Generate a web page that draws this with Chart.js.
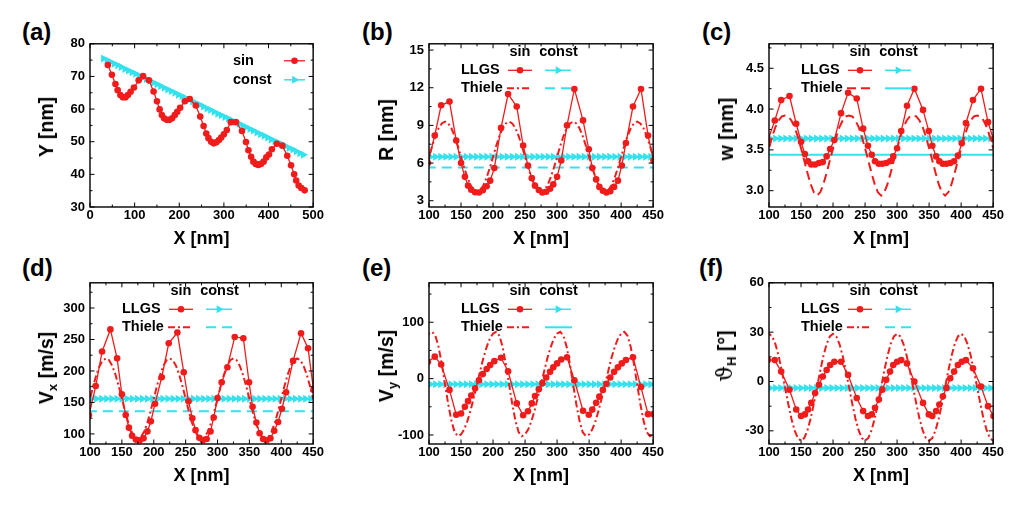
<!DOCTYPE html>
<html>
<head>
<meta charset="utf-8">
<script src="https://cdn.jsdelivr.net/npm/chart.js@4.4.1/dist/chart.umd.min.js"></script>
<style>
  body { margin: 0; background: #fff; width: 1030px; height: 511px; position: relative; overflow: hidden; font-family: "Liberation Sans", Arial, sans-serif; }
  canvas { position: absolute; }
  .tag { position: absolute; font-weight: bold; font-size: 24px; line-height: 24px; }
  .ytitle { position: absolute; font-weight: bold; font-size: 19.5px; line-height: 20px; white-space: nowrap; transform: translate(-50%, -50%) rotate(-90deg); }
  .ytitle sub { font-size: 13px; vertical-align: -4px; line-height: 0; }
  .ytitle .th { font-family: "DejaVu Serif", serif; font-weight: normal; font-size: 22px; }
</style>
</head>
<body>
<div class="tag" style="left:22px;top:20px">(a)</div>
<div class="tag" style="left:362px;top:20px">(b)</div>
<div class="tag" style="left:702px;top:20px">(c)</div>
<div class="tag" style="left:22px;top:256px">(d)</div>
<div class="tag" style="left:362px;top:256px">(e)</div>
<div class="tag" style="left:699px;top:256px">(f)</div>

<script>
// X POSITIONS OF THE "sin" TRACK (LLGS samples)
const xSin = [40, 49, 57, 62, 68, 73.5, 79.5, 85, 91, 98.5, 109, 119, 132, 142.5, 150, 156, 161, 166, 172, 178,
  184, 190, 195.5, 202, 212.5, 223.5, 237, 247, 254.5, 260.5, 265.5, 271.5, 277, 283, 289, 294, 300, 306.5, 315.5, 327,
  340.5, 349.5, 355, 361, 366, 371.5, 377, 383, 389, 395, 401, 407.5, 418.5, 431, 442, 450.5, 457.5, 462, 467.5, 473.5, 481];
const ySin = [73.5, 70.5, 67.7, 65.8, 64.3, 63.6, 63.6, 64.3, 65.3, 66.6, 68.8, 70.1, 68.8, 65.4, 62.4, 59.9, 58.2, 57.2, 56.7, 56.7,
  57.2, 58.2, 59.2, 60.4, 62.4, 63.1, 61.1, 57.7, 54.8, 52.5, 51.1, 50.0, 49.5, 49.8, 50.5, 51.3, 52.3, 53.6, 56.0, 56.0,
  53.3, 49.9, 47.4, 45.4, 43.9, 43.2, 42.9, 43.2, 43.9, 45.2, 46.1, 47.7, 49.4, 48.8, 45.7, 42.8, 40.0, 38.1, 36.6, 35.8, 35.1];

// "const" TRACK
const xConst = [30, 38, 46, 54, 62, 70, 78, 86, 94, 102, 110, 118, 126, 134, 142, 150, 158, 166, 174, 182,
  190, 198, 206, 214, 222, 230, 238, 246, 254, 262, 270, 278, 286, 294, 302, 310, 318, 326, 334, 342,
  350, 358, 366, 374, 382, 390, 398, 406, 414, 422, 430, 438, 446, 454, 462, 470, 478];
const yConst = [75.5, 75.0, 74.4, 73.9, 73.4, 72.9, 72.3, 71.8, 71.3, 70.8, 70.2, 69.7, 69.2, 68.7, 68.1, 67.6, 67.1, 66.5, 66.0, 65.5,
  65.0, 64.4, 63.9, 63.4, 62.9, 62.3, 61.8, 61.3, 60.8, 60.2, 59.7, 59.2, 58.6, 58.1, 57.6, 57.1, 56.5, 56.0, 55.5, 55.0,
  54.4, 53.9, 53.4, 52.8, 52.3, 51.8, 51.3, 50.7, 50.2, 49.7, 49.2, 48.6, 48.1, 47.6, 47.1, 46.5, 46.0];

// panels b-f only show 100..450 nm
const xSim = xSin.slice(8, 57);
const xConstSim = xConst.slice(8, 54);
const xThiele = [95, 100, 105, 110, 115, 120, 125, 130, 135, 140, 145, 150, 155, 160, 165, 170, 175, 180, 185, 190,
  195, 200, 205, 210, 215, 220, 225, 230, 235, 240, 245, 250, 255, 260, 265, 270, 275, 280, 285, 290,
  295, 300, 305, 310, 315, 320, 325, 330, 335, 340, 345, 350, 355, 360, 365, 370, 375, 380, 385, 390,
  395, 400, 405, 410, 415, 420, 425, 430, 435, 440, 445, 450, 455];
const xThieleConst = [95, 455];

// (b) R
const rLLGS = [4.8, 6.0, 8.2, 10.6, 10.9, 7.8, 6.0, 4.9, 4.2, 3.87, 3.68, 3.66, 3.84, 4.15, 4.6, 5.6, 8.8, 11.5, 10.5, 7.4,
  5.8, 4.8, 4.2, 3.85, 3.66, 3.72, 3.95, 4.3, 4.9, 6.2, 9.0, 11.9, 9.4, 7.1, 5.6, 4.7, 4.1, 3.8, 3.65, 3.75,
  4.1, 4.6, 5.8, 7.6, 10.5, 11.9, 8.2, 6.2, 5.0];
const rThiele = [5.63, 6.50, 7.37, 8.15, 8.77, 9.16,
  9.30, 9.16, 8.77, 8.15, 7.37, 6.50, 5.63, 4.85, 4.23, 3.84, 3.70, 3.84, 4.23, 4.85, 5.63, 6.50, 7.37, 8.15, 8.77, 9.16,
  9.30, 9.16, 8.77, 8.15, 7.37, 6.50, 5.63, 4.85, 4.23, 3.84, 3.70, 3.84, 4.23, 4.85, 5.63, 6.50, 7.37, 8.15, 8.77, 9.16,
  9.30, 9.16, 8.77, 8.15, 7.37, 6.50, 5.63, 4.85, 4.23, 3.84, 3.70, 3.84, 4.23, 4.85, 5.63, 6.50, 7.37, 8.15, 8.77, 9.16,
  9.30, 9.16, 8.77, 8.15, 7.37, 6.50, 5.63];
const rConst = [6.5, 6.5, 6.5, 6.5, 6.5, 6.5, 6.5, 6.5, 6.5, 6.5, 6.5, 6.5, 6.5, 6.5, 6.5, 6.5, 6.5, 6.5, 6.5, 6.5, 6.5, 6.5, 6.5,
  6.5, 6.5, 6.5, 6.5, 6.5, 6.5, 6.5, 6.5, 6.5, 6.5, 6.5, 6.5, 6.5, 6.5, 6.5, 6.5, 6.5, 6.5, 6.5, 6.5, 6.5, 6.5, 6.5];
const rThieleConst = [5.65, 5.65];

// (c) w
const wLLGS = [3.50, 3.62, 3.86, 4.11, 4.16, 3.82, 3.60, 3.45, 3.36, 3.32, 3.32, 3.34, 3.35, 3.42, 3.51, 3.62, 3.95, 4.20, 4.13, 3.76,
  3.55, 3.44, 3.36, 3.33, 3.33, 3.34, 3.36, 3.42, 3.52, 3.73, 4.04, 4.25, 3.99, 3.73, 3.55, 3.42, 3.36, 3.33, 3.33, 3.34,
  3.36, 3.43, 3.58, 3.83, 4.11, 4.25, 3.84, 3.63, 3.48];
const wThiele = [3.37, 3.52, 3.66, 3.78, 3.86, 3.91,
  3.92, 3.91, 3.86, 3.78, 3.66, 3.52, 3.37, 3.22, 3.08, 2.98, 2.94, 2.98, 3.08, 3.22, 3.37, 3.52, 3.66, 3.78, 3.86, 3.91,
  3.92, 3.91, 3.86, 3.78, 3.66, 3.52, 3.37, 3.22, 3.08, 2.98, 2.94, 2.98, 3.08, 3.22, 3.37, 3.52, 3.66, 3.78, 3.86, 3.91,
  3.92, 3.91, 3.86, 3.78, 3.66, 3.52, 3.37, 3.22, 3.08, 2.98, 2.94, 2.98, 3.08, 3.22, 3.37, 3.52, 3.66, 3.78, 3.86, 3.91,
  3.92, 3.91, 3.86, 3.78, 3.66, 3.52, 3.37];
const wConst = [3.64, 3.64, 3.64, 3.64, 3.64, 3.64, 3.64, 3.64, 3.64, 3.64, 3.64, 3.64, 3.64, 3.64, 3.64, 3.64, 3.64, 3.64, 3.64, 3.64, 3.64, 3.64, 3.64,
  3.64, 3.64, 3.64, 3.64, 3.64, 3.64, 3.64, 3.64, 3.64, 3.64, 3.64, 3.64, 3.64, 3.64, 3.64, 3.64, 3.64, 3.64, 3.64, 3.64, 3.64, 3.64, 3.64];
const wThieleConst = [3.44, 3.44];

// (d) Vx
const vxLLGS = [110, 130, 176, 231, 266, 220, 163, 130, 110, 97, 91, 90, 93, 104, 120, 148, 190, 244, 261, 198,
  152, 125, 106, 94, 90, 92, 104, 126, 157, 182, 206, 254, 252, 182, 143, 118, 101, 92, 90, 93,
  105, 119, 140, 166, 216, 260, 236, 170, 130];
const vxThiele = [136, 156, 176, 194, 208, 217,
  220, 217, 208, 194, 176, 156, 136, 118, 104, 95, 92, 95, 104, 118, 136, 156, 176, 194, 208, 217,
  220, 217, 208, 194, 176, 156, 136, 118, 104, 95, 92, 95, 104, 118, 136, 156, 176, 194, 208, 217,
  220, 217, 208, 194, 176, 156, 136, 118, 104, 95, 92, 95, 104, 118, 136, 156, 176, 194, 208, 217,
  220, 217, 208, 194, 176, 156, 136];
const vxConst = [156, 156, 156, 156, 156, 156, 156, 156, 156, 156, 156, 156, 156, 156, 156, 156, 156, 156, 156, 156, 156, 156, 156,
  156, 156, 156, 156, 156, 156, 156, 156, 156, 156, 156, 156, 156, 156, 156, 156, 156, 156, 156, 156, 156, 156, 156];
const vxThieleConst = [136, 136];

// (e) Vy
const vyLLGS = [20, 30, 39, 25, -20, -64, -62, -50, -40, -30, -17, -3, 8, 17, 24, 31, 37, 13, -44, -65,
  -58, -44, -31, -19, -8, 2, 12, 20, 27, 34, 38, -3, -57, -64, -55, -43, -32, -20, -9, 2,
  12, 20, 27, 33, 38, -15, -63, -63, -55];
const vyThiele = [71, 80, 83, 76, 56, 26, -10, -45, -75, -95,
  -102, -99, -90, -75, -56, -33, -10, 14, 37, 56, 71, 80, 83, 76, 56, 26, -10, -45, -75, -95,
  -102, -99, -90, -75, -56, -33, -10, 14, 37, 56, 71, 80, 83, 76, 56, 26, -10, -45, -75, -95,
  -102, -99, -90, -75, -56, -33, -10, 14, 37, 56, 71, 80, 83, 76, 56, 26, -10, -45, -75, -95,
  -102, -99, -90];
const vyConst = [-10, -10, -10, -10, -10, -10, -10, -10, -10, -10, -10, -10, -10, -10, -10, -10, -10, -10, -10, -10, -10, -10, -10,
  -10, -10, -10, -10, -10, -10, -10, -10, -10, -10, -10, -10, -10, -10, -10, -10, -10, -10, -10, -10, -10, -10, -10];
const vyThieleConst = [-10, -10];

// (f) theta_H
const thLLGS = [10, 13, 13, 6, -5, -17, -21, -20, -17, -13, -7, -2, 3, 7, 10, 12, 12, 4, -10, -18,
  -21, -20, -16, -11, -5, 1, 6, 10, 12, 13, 11, 0, -13, -20, -21, -18, -14, -9, -4, 2,
  6, 10, 12, 13, 8, -3, -15, -21, -21];
const thThiele = [27.4,
  29, 27.4, 22.8, 15.6, 6.5, -3.5, -13.5, -22.6, -29.8, -34.4, -36, -34.4, -29.8, -22.6, -13.5, -3.5, 6.5, 15.6, 22.8, 27.4,
  29, 27.4, 22.8, 15.6, 6.5, -3.5, -13.5, -22.6, -29.8, -34.4, -36, -34.4, -29.8, -22.6, -13.5, -3.5, 6.5, 15.6, 22.8, 27.4,
  29, 27.4, 22.8, 15.6, 6.5, -3.5, -13.5, -22.6, -29.8, -34.4, -36, -34.4, -29.8, -22.6, -13.5, -3.5, 6.5, 15.6, 22.8, 27.4,
  29, 27.4, 22.8, 15.6, 6.5, -3.5, -13.5, -22.6, -29.8, -34.4, -36, -34.4];
const thConst = [-4, -4, -4, -4, -4, -4, -4, -4, -4, -4, -4, -4, -4, -4, -4, -4, -4, -4, -4, -4, -4, -4, -4,
  -4, -4, -4, -4, -4, -4, -4, -4, -4, -4, -4, -4, -4, -4, -4, -4, -4, -4, -4, -4, -4, -4, -4];
const thThieleConst = [-4, -4];

// TICKS
const xTicksA = [0, 100, 200, 300, 400, 500];
const xTicksSim = [100, 150, 200, 250, 300, 350, 400, 450];
const yTicksA = [30, 40, 50, 60, 70, 80];
const yTicksB = [3, 6, 9, 12, 15];
const yTicksC = [3.0, 3.5, 4.0, 4.5];
const yTicksD = [100, 150, 200, 250, 300];
const yTicksE = [-100, 0, 100];
const yTicksF = [-30, 0, 30, 60];

// STYLES
const RED = '#f01c1c';
const CYAN = '#34e2ee';
const DASHDOT = [7, 3, 2, 3];
const FONT = '"Liberation Sans", Arial, sans-serif';
Chart.defaults.font.family = FONT;
Chart.defaults.color = '#000';

const sinStyle = { color: RED, width: 1.3, marker: 'circle', r: 3.3 };
const constStyle = { color: CYAN, width: 1.5, marker: 'tri', r: 4.6 };

const pts = (xs, ys) => xs.map((x, i) => ({ x: x, y: ys[i] }));

const minorOf = (majors, min, max) => {
  const step = majors[1] - majors[0];
  const out = [];
  for (let v = majors[0] - step / 2; v <= max + 1e-9; v += step) {
    if (v >= min - 1e-9) out.push(v);
  }
  return out;
};

function drawMarker(ctx, kind, x, y, r, color) {
  ctx.fillStyle = color;
  ctx.beginPath();
  if (kind === 'circle') {
    ctx.arc(x, y, r, 0, Math.PI * 2);
  } else {
    ctx.moveTo(x + r, y);
    ctx.lineTo(x - r / 2, y - r * 0.866);
    ctx.lineTo(x - r / 2, y + r * 0.866);
    ctx.closePath();
  }
  ctx.fill();
}

function drawSample(ctx, x0, x1, y, s) {
  ctx.save();
  ctx.strokeStyle = s.color;
  ctx.lineWidth = s.width;
  ctx.setLineDash(s.dash || []);
  ctx.beginPath();
  ctx.moveTo(x0, y);
  ctx.lineTo(x1, y);
  ctx.stroke();
  ctx.setLineDash([]);
  if (s.marker) drawMarker(ctx, s.marker, (x0 + x1) / 2, y, s.r, s.color);
  ctx.restore();
}

// frame, inner ticks on all four sides and the in-plot legend
const framePlugin = {
  id: 'frame',
  afterDatasetsDraw(chart, args, opts) {
    const { ctx, chartArea: a, scales: { x, y } } = chart;
    ctx.save();
    ctx.strokeStyle = '#000';
    ctx.lineWidth = 1;
    ctx.beginPath();
    const xTick = (v, len) => {
      const p = x.getPixelForValue(v);
      ctx.moveTo(p, a.bottom); ctx.lineTo(p, a.bottom - len);
      ctx.moveTo(p, a.top); ctx.lineTo(p, a.top + len);
    };
    const yTick = (v, len) => {
      const p = y.getPixelForValue(v);
      ctx.moveTo(a.left, p); ctx.lineTo(a.left + len, p);
      ctx.moveTo(a.right, p); ctx.lineTo(a.right - len, p);
    };
    opts.xMajor.forEach(v => xTick(v, 4.5));
    minorOf(opts.xMajor, x.min, x.max).forEach(v => xTick(v, 2.5));
    opts.yMajor.forEach(v => yTick(v, 4.5));
    minorOf(opts.yMajor, y.min, y.max).forEach(v => yTick(v, 2.5));
    ctx.stroke();
    ctx.lineWidth = 1.4;
    ctx.strokeRect(a.left, a.top, a.width, a.height);

    ctx.fillStyle = '#000';
    ctx.font = 'bold 14.5px ' + FONT;
    ctx.textBaseline = 'middle';
    const lg = opts.legend;
    if (lg.single) {
      ctx.textAlign = 'left';
      ctx.fillText('sin', a.left + 143, a.top + 17);
      ctx.fillText('const', a.left + 143, a.top + 36);
      drawSample(ctx, a.left + 194, a.left + 215, a.top + 17, sinStyle);
      drawSample(ctx, a.left + 194, a.left + 215, a.top + 36, constStyle);
    } else {
      ctx.textAlign = 'center';
      ctx.fillText('sin', a.left + 91, a.top + 8);
      ctx.fillText('const', a.left + 129.5, a.top + 8);
      ctx.textAlign = 'left';
      ctx.fillText('LLGS', a.left + 32, a.top + 26.5);
      ctx.fillText('Thiele', a.left + 32, a.top + 44.5);
      drawSample(ctx, a.left + 79, a.left + 103, a.top + 26.5, sinStyle);
      drawSample(ctx, a.left + 116, a.left + 142, a.top + 26.5, constStyle);
      drawSample(ctx, a.left + 78, a.left + 103, a.top + 44.5, { color: RED, width: 2, dash: lg.thSinDash });
      drawSample(ctx, a.left + 116, a.left + 143, a.top + 44.5, { color: CYAN, width: 2, dash: lg.thConstDash });
    }
    ctx.restore();
  }
};

function llgsSet(xs, ys) {
  return { data: pts(xs, ys), showLine: true, borderColor: RED, backgroundColor: RED, borderWidth: 1.3,
    pointStyle: 'circle', pointRadius: 3.3, pointBorderWidth: 0, order: 1 };
}
function constSet(xs, ys) {
  return { data: pts(xs, ys), showLine: true, borderColor: CYAN, backgroundColor: CYAN, borderWidth: 1.5,
    pointStyle: 'triangle', rotation: 90, pointRadius: 4.6, pointBorderWidth: 0, order: 3 };
}
function thieleSet(xs, ys, dash, color, order) {
  return { data: pts(xs, ys), showLine: true, borderColor: color, borderWidth: 2, borderDash: dash,
    pointRadius: 0, order: order };
}

function makePanel(p) {
  const cv = document.createElement('canvas');
  cv.width = p.W + 63;
  cv.height = p.H + 58;
  cv.style.left = (p.L - 55) + 'px';
  cv.style.top = (p.T - 8) + 'px';
  document.body.appendChild(cv);

  const tickFont = { family: FONT, size: 13, weight: 'bold' };
  new Chart(cv, {
    type: 'scatter',
    data: { datasets: p.datasets },
    options: {
      responsive: false,
      animation: false,
      layout: { padding: { left: 0, top: 8, right: 8, bottom: 0 } },
      plugins: {
        legend: { display: false },
        tooltip: { enabled: false },
        frame: { xMajor: p.xTicks, yMajor: p.yTicks, legend: p.legend }
      },
      scales: {
        x: {
          type: 'linear', min: p.xMin, max: p.xMax,
          afterBuildTicks: s => { s.ticks = p.xTicks.map(v => ({ value: v })); },
          afterFit: s => { s.height = 50; },
          grid: { display: false, drawTicks: false },
          border: { display: false },
          ticks: { font: tickFont, color: '#000', padding: 1, maxRotation: 0, autoSkip: false, callback: v => String(v) },
          title: { display: true, text: 'X [nm]', color: '#000', font: { family: FONT, size: 18, weight: 'bold' }, padding: { top: 0, bottom: 7 } }
        },
        y: {
          type: 'linear', min: p.yMin, max: p.yMax,
          afterBuildTicks: s => { s.ticks = p.yTicks.map(v => ({ value: v })); },
          afterFit: s => { s.width = 55; },
          grid: { display: false, drawTicks: false },
          border: { display: false },
          ticks: { font: tickFont, color: '#000', padding: 5, autoSkip: false, callback: p.yFmt || (v => String(v)) }
        }
      }
    },
    plugins: [framePlugin]
  });

  const t = document.createElement('div');
  t.className = 'ytitle';
  t.style.left = p.titleX + 'px';
  t.style.top = p.titleY + 'px';
  t.innerHTML = p.yTitle;
  document.body.appendChild(t);
}

function simSets(sin, thSin, thSinDash, cst, thCst, thCstDash) {
  return [
    llgsSet(xSim, sin),
    thieleSet(xThiele, thSin, thSinDash, RED, 2),
    constSet(xConstSim, cst),
    thieleSet(xThieleConst, thCst, thCstDash, CYAN, 4)
  ];
}

// PANELS
makePanel({ L: 90, T: 39, W: 227, H: 168, xMin: 0, xMax: 500, xTicks: xTicksA, yMin: 30, yMax: 80, yTicks: yTicksA,
  yTitle: 'Y [nm]', titleX: 46, titleY: 127,
  datasets: [llgsSet(xSin, ySin), constSet(xConst, yConst)], legend: { single: true } });

makePanel({ L: 429, T: 39, W: 228, H: 168, xMin: 100, xMax: 450, xTicks: xTicksSim, yMin: 2.5, yMax: 15.5, yTicks: yTicksB,
  yTitle: 'R [nm]', titleX: 386, titleY: 130,
  datasets: simSets(rLLGS, rThiele, DASHDOT, rConst, rThieleConst, [10, 6]),
  legend: { thSinDash: DASHDOT, thConstDash: [10, 6] } });

makePanel({ L: 769, T: 39, W: 228, H: 168, xMin: 100, xMax: 450, xTicks: xTicksSim, yMin: 2.8, yMax: 4.8, yTicks: yTicksC,
  yFmt: v => v.toFixed(1), yTitle: 'w [nm]', titleX: 726, titleY: 129,
  datasets: simSets(wLLGS, wThiele, [9, 5], wConst, wThieleConst, []),
  legend: { thSinDash: [9, 5], thConstDash: [] } });

makePanel({ L: 90, T: 278, W: 227, H: 166, xMin: 100, xMax: 450, xTicks: xTicksSim, yMin: 84, yMax: 340, yTicks: yTicksD,
  yTitle: 'V<sub>x</sub> [m/s]', titleX: 46, titleY: 368,
  datasets: simSets(vxLLGS, vxThiele, DASHDOT, vxConst, vxThieleConst, [10, 6]),
  legend: { thSinDash: DASHDOT, thConstDash: [10, 6] } });

makePanel({ L: 429, T: 278, W: 228, H: 166, xMin: 100, xMax: 450, xTicks: xTicksSim, yMin: -116, yMax: 170, yTicks: yTicksE,
  yTitle: 'V<sub>y</sub> [m/s]', titleX: 386, titleY: 366,
  datasets: simSets(vyLLGS, vyThiele, DASHDOT, vyConst, vyThieleConst, []),
  legend: { thSinDash: DASHDOT, thConstDash: [] } });

makePanel({ L: 769, T: 278, W: 228, H: 166, xMin: 100, xMax: 450, xTicks: xTicksSim, yMin: -38, yMax: 60, yTicks: yTicksF,
  yTitle: '<span class="th">&#977;</span><sub>H</sub> [&deg;]', titleX: 725, titleY: 356,
  datasets: simSets(thLLGS, thThiele, DASHDOT, thConst, thThieleConst, [10, 6]),
  legend: { thSinDash: DASHDOT, thConstDash: [10, 6] } });
</script>
</body>
</html>
